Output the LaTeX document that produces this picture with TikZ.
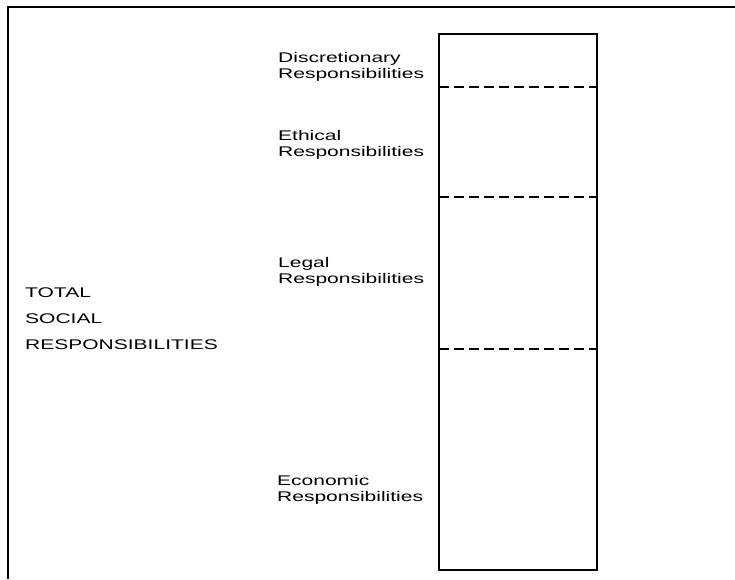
\documentclass[tikz,border=0pt]{standalone}
\usepackage{fontspec}
\usetikzlibrary{positioning}
\newfontfamily\labelfont[FakeStretch=1.5]{Liberation Sans}
\tikzset{
  framestroke/.style={draw=black, line width=2.4pt},
  colbox/.style={draw=black, line width=1.8pt},
  levelline/.style={draw=black, line width=2pt, dash pattern=on 10pt off 5pt},
  levellabel/.style={anchor=base west, align=left, inner sep=0pt, font=\labelfont\fontsize{14}{16}\selectfont},
  totallabel/.style={anchor=base west, align=left, inner sep=0pt, font=\labelfont\fontsize{14}{26}\selectfont}
}
\begin{document}
\begin{tikzpicture}[x=1pt, y=-1pt]
    \useasboundingbox (0,0) rectangle (735,579);

    % Outer frame (top and left edges only)
    \draw[framestroke] (735,7) -- (8,7) -- (8,579);

    % Column of responsibilities
    \coordinate (top) at (439,34);
    \coordinate (bottom) at (597,570);
    \draw[colbox] (top) rectangle (bottom);

    % Level boundaries
    \draw[levelline] (439,87) -- (597,87);
    \draw[levelline] (439,197) -- (597,197);
    \draw[levelline] (439,349) -- (597,349);

    % Level labels (anchored on the last line)
    \node[levellabel] (disc) at (278,78) {Discretionary\\Responsibilities};
    \node[levellabel] (eth) at (278,156) {Ethical\\Responsibilities};
    \node[levellabel] (legal) at (278,283) {Legal\\Responsibilities};
    \node[levellabel] (econ) at (277,501) {Economic\\Responsibilities};

    % Total label
    \node[totallabel] (total) at (25,349) {TOTAL\\SOCIAL\\RESPONSIBILITIES};
\end{tikzpicture}
\end{document}
